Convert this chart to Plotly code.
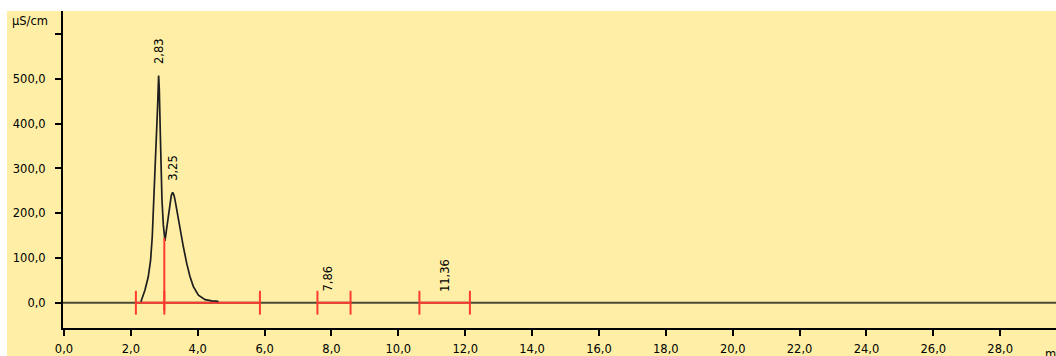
import numpy as np
import plotly.graph_objects as go

# chromatogram signal (time in min, conductivity in µS/cm)
time_min = [2.30, 2.42, 2.52, 2.59, 2.64, 2.67, 2.70, 2.73, 2.76, 2.80, 2.83,
            2.85, 2.88, 2.90, 2.93, 2.97, 3.00, 3.02, 3.06, 3.10, 3.14, 3.17, 3.21,
            3.25, 3.29, 3.32, 3.36, 3.40, 3.47, 3.57, 3.67, 3.77, 3.87, 4.02, 4.22,
            4.42, 4.62]
signal = [2, 28, 58, 95, 148, 200, 237, 300, 360, 440, 508,
          478, 380, 290, 230, 175, 145, 138, 160, 185, 205, 223, 240,
          247, 240, 230, 212, 192, 162, 125, 88, 58, 36, 17, 7,
          4, 3]

# integrated peaks
peak_rt = [2.83, 3.25, 7.86, 11.36]
peak_labels = ["2,83", "3,25", "7,86", "11,36"]
peak_start = [2.15, 3.00, 7.58, 10.63]
peak_end = [3.00, 5.86, 8.57, 12.14]
drop_line_x = [3.00]

x_ticks = [0, 2, 4, 6, 8, 10, 12, 14, 16, 18, 20, 22, 24, 26, 28]
y_ticks = [0, 100, 200, 300, 400, 500, 600]
y_ticktext = ["0,0", "100,0", "200,0", "300,0", "400,0", "500,0", ""]
x_ticktext = [f"{v:.1f}".replace(".", ",") for v in x_ticks]

X_RANGE = [-0.03, 29.67]
Y_RANGE = [-56.5, 652]

BG = "#FFEFA6"
RED = "#FF3B30"
FONT = "DejaVu Sans"
FS = 11.5

L, R, T, B = 63, 0, 11, 28
PW, PH = 1056 - L - R, 356 - T - B

fig = go.Figure()

# baseline
fig.add_trace(go.Scatter(x=[X_RANGE[0], X_RANGE[1]], y=[0, 0], mode="lines",
                         line=dict(color="#4A4838", width=2), hoverinfo="skip"))

# integration baselines (red)
seg_x, seg_y = [], []
for s, e in zip(peak_start, peak_end):
    seg_x += [s, e, None]
    seg_y += [0, 0, None]
fig.add_trace(go.Scatter(x=seg_x, y=seg_y, mode="lines",
                         line=dict(color=RED, width=2), hoverinfo="skip"))

# boundary ticks
bounds = sorted(set(peak_start + peak_end))
fig.add_trace(go.Scatter(x=bounds, y=[0] * len(bounds), mode="markers",
                         marker=dict(symbol="line-ns", size=17,
                                     line=dict(color=RED, width=2)),
                         hoverinfo="skip"))

# signal
fig.add_trace(go.Scatter(x=time_min, y=signal, mode="lines",
                         line=dict(color="#1E1E1E", width=1.7, shape="linear"),
                         hoverinfo="skip"))

# drop line between co-eluting peaks
for dx in drop_line_x:
    top = float(np.interp(dx, time_min, signal))
    fig.add_trace(go.Scatter(x=[dx, dx], y=[-18, top], mode="lines",
                             line=dict(color=RED, width=2), hoverinfo="skip"))

# peak labels
for rt, lab in zip(peak_rt, peak_labels):
    if time_min[0] <= rt <= time_min[-1]:
        h = max(signal[i] for i in range(len(time_min)) if abs(time_min[i] - rt) < 0.04)
    else:
        h = 0
    fig.add_annotation(x=rt, y=h, text=lab, textangle=-90, showarrow=False,
                       xanchor="center", yanchor="bottom", yshift=9, xshift=1,
                       font=dict(family=FONT, size=FS, color="#000"))

# unit labels
fig.add_annotation(xref="paper", yref="y", x=0, y=600, text="µS/cm", showarrow=False,
                   xanchor="right", yanchor="middle", xshift=-13, yshift=13,
                   font=dict(family=FONT, size=FS, color="#000"))
fig.add_annotation(xref="paper", yref="paper", x=(1043 - L) / PW, y=-17 / PH,
                   text="min", showarrow=False,
                   xanchor="left", yanchor="top",
                   font=dict(family=FONT, size=FS, color="#000"))

# panel background extending into margins
fig.add_shape(type="rect", xref="paper", yref="paper", x0=-(L - 7) / PW, x1=1,
              y0=-B / PH, y1=1, fillcolor=BG, line=dict(width=0), layer="below")

fig.update_layout(
    width=1056, height=356,
    margin=dict(l=L, r=R, t=T, b=B, autoexpand=False),
    paper_bgcolor="white", plot_bgcolor=BG,
    showlegend=False,
    font=dict(family=FONT, size=FS, color="#000"),
    xaxis=dict(range=X_RANGE, tickvals=x_ticks, ticktext=x_ticktext,
               showgrid=False, zeroline=False, showline=True, linecolor="#000",
               linewidth=2, ticks="outside", ticklen=6, tickwidth=2, tickcolor="#000",
               ticklabelstandoff=3, automargin=False),
    yaxis=dict(range=Y_RANGE, tickvals=y_ticks, ticktext=y_ticktext,
               showgrid=False, zeroline=False, showline=True, linecolor="#000",
               linewidth=2, ticks="outside", ticklen=6, tickwidth=2, tickcolor="#000",
               ticklabelstandoff=7, automargin=False),
)

fig.write_html(
    "out.html",
    config={"displayModeBar": False},
    post_script="document.body.style.margin='0';"
                "document.documentElement.style.overflow='hidden';"
                "document.body.style.overflow='hidden';",
)
